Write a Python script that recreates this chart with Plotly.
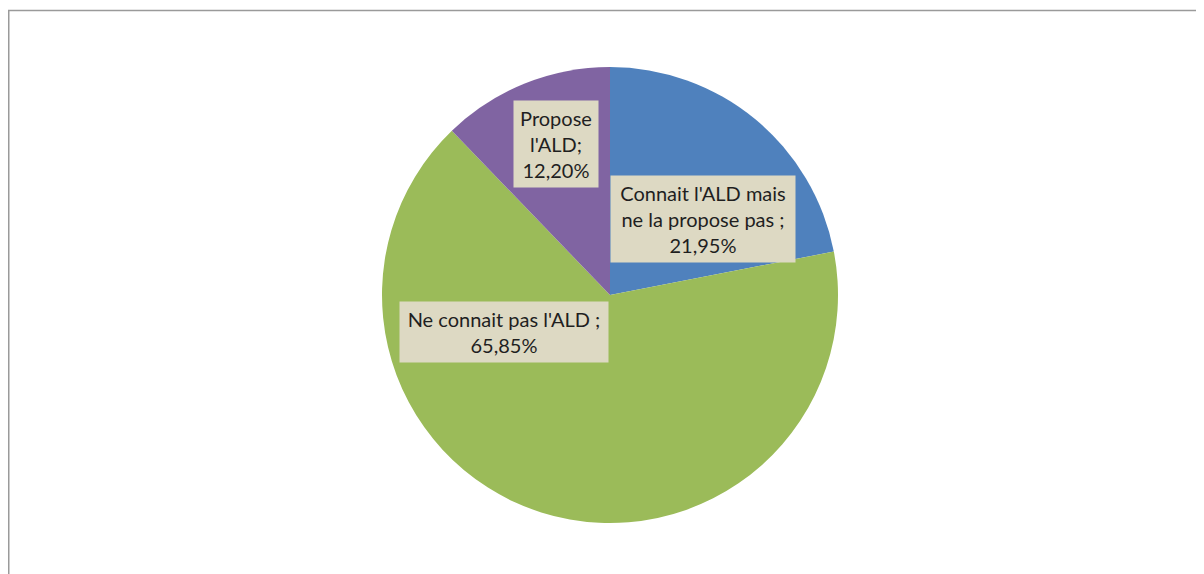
import plotly.graph_objects as go

W, H = 1204, 574
OFF = 8  # page body margin offset

categories = ["Connait l'ALD mais ne la propose pas", "Ne connait pas l'ALD", "Propose l'ALD"]
values = [21.95, 65.85, 12.20]
colors = ["#4F81BD", "#9BBB59", "#8064A2"]
label_texts = [
    "Connait l'ALD mais<br>ne la propose pas ;<br>21,95%",
    "Ne connait pas l'ALD ;<br>65,85%",
    "Propose<br>l'ALD;<br>12,20%",
]
# label box centres / sizes in pixels (screen)
label_boxes = [
    (703, 219, 184, 86),
    (504, 332, 208, 60),
    (556, 144, 84, 86),
]

cx, cy, r = 610 - OFF, 295 - OFF, 228

fig = go.Figure(go.Pie(
    labels=categories,
    values=values,
    sort=False,
    direction="clockwise",
    rotation=0,
    marker=dict(colors=colors, line=dict(width=0)),
    textinfo="none",
    hoverinfo="label+percent",
    showlegend=False,
    domain=dict(x=[(cx - r) / W, (cx + r) / W], y=[(H - cy - r) / H, (H - cy + r) / H]),
))

for txt, (bx, by, bw, bh) in zip(label_texts, label_boxes):
    fig.add_annotation(
        x=(bx - OFF) / W, y=1 - (by - OFF) / H, xref="paper", yref="paper",
        xanchor="center", yanchor="middle",
        text=txt, showarrow=False,
        width=bw, height=bh, borderpad=0,
        bgcolor="#DDD9C3",
        font=dict(family="Lato, Carlito, sans-serif", size=20, color="#1F1F1F"),
        align="center", valign="middle",
    )

fig.add_shape(type="rect", xref="paper", yref="paper",
              x0=0.75 / W, x1=1.02, y0=-0.05, y1=1 - 2.5 / H,
              line=dict(color="#9A9A9A", width=1.5), fillcolor="rgba(0,0,0,0)", layer="above")

fig.update_layout(
    width=W, height=H,
    margin=dict(l=0, r=0, t=0, b=0),
    paper_bgcolor="white", plot_bgcolor="white",
)

fig.write_html("out.html")
